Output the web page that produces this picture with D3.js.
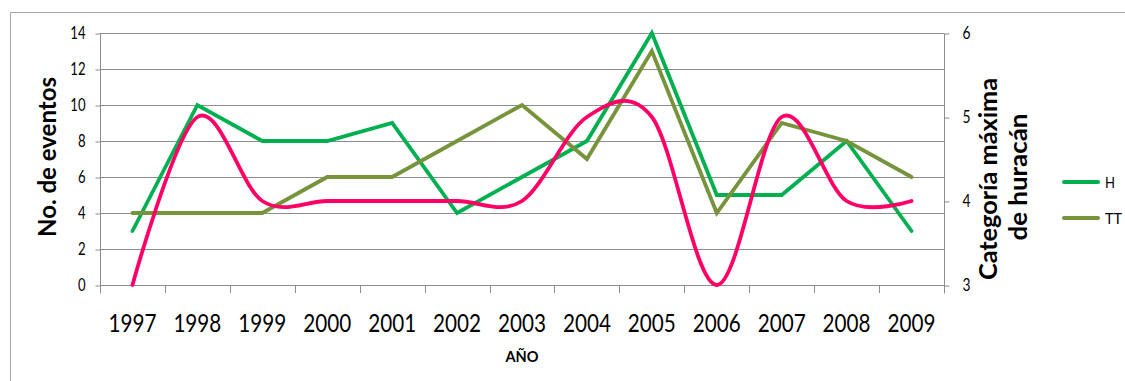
<!DOCTYPE html>
<html>
<head>
<meta charset="utf-8">
<script src="https://cdn.jsdelivr.net/npm/d3@7"></script>
<style>
  html, body { margin: 0; padding: 0; background: #fff; }
  svg { display: block; }
  text { font-family: Lato, "Liberation Sans", sans-serif; fill: #000; }
</style>
</head>
<body>
<svg id="chart" width="1125" height="381"></svg>
<script>
// Años y series
const years = ['1997','1998','1999','2000','2001','2002','2003','2004','2005','2006','2007','2008','2009'];
const hValues  = [3, 10, 8, 8, 9, 4, 6, 8, 14, 5, 5, 8, 3];      // H
const ttValues = [4, 4, 4, 6, 6, 8, 10, 7, 13, 4, 9, 8, 6];      // TT
const catValues = [3, 5, 4, 4, 4, 4, 4, 5, 5, 3, 5, 4, 4];       // categoría máxima (eje secundario)
const leftTicks = [0, 2, 4, 6, 8, 10, 12, 14];
const rightTicks = [3, 4, 5, 6];

const svg = d3.select('#chart');
const plot = { left: 100, right: 944, top: 33, bottom: 285 };
const gridColor = '#8c8c8c';
const intFmt = d3.format('d');

// marco exterior
svg.append('rect')
  .attr('x', 10.5).attr('y', 12.5)
  .attr('width', 1130).attr('height', 400)
  .attr('fill', 'none').attr('stroke', '#a6a6a6').attr('stroke-width', 1);

const x = d3.scaleBand().domain(years).range([plot.left, plot.right]);
const yL = d3.scaleLinear().domain([0, 14]).range([plot.bottom, plot.top]);
const yR = d3.scaleLinear().domain([3, 6]).range([plot.bottom, plot.top]);
const cx = d => x(d) + x.bandwidth() / 2;

// líneas de cuadrícula horizontales
svg.append('g').selectAll('line').data(leftTicks).join('line')
  .attr('x1', plot.left).attr('x2', plot.right)
  .attr('y1', d => Math.round(yL(d)) + 0.5).attr('y2', d => Math.round(yL(d)) + 0.5)
  .attr('stroke', gridColor).attr('stroke-width', 1);

// eje izquierdo
const axL = svg.append('g').attr('transform', `translate(${plot.left + 0.5},0.5)`)
  .call(d3.axisLeft(yL).tickValues(leftTicks).tickFormat(intFmt)
    .tickSize(5).tickPadding(10).tickSizeOuter(0));
axL.select('.domain').attr('stroke', gridColor).attr('d', `M0,${plot.top}V${plot.bottom + 8}`);
axL.selectAll('.tick line').attr('stroke', gridColor);
axL.selectAll('.tick text')
  .style('font-family', 'Lato, "Liberation Sans", sans-serif')
  .style('font-size', '17px')
  .attr('x', -15)
  .attr('textLength', d => intFmt(d).length * 7.6)
  .attr('lengthAdjust', 'spacingAndGlyphs');

// eje derecho
const axR = svg.append('g').attr('transform', `translate(${plot.right + 0.5},0.5)`)
  .call(d3.axisRight(yR).tickValues(rightTicks).tickFormat(intFmt)
    .tickSize(5).tickPadding(13).tickSizeOuter(0));
axR.select('.domain').attr('stroke', gridColor).attr('d', `M0,${plot.top}V${plot.bottom + 8}`);
axR.selectAll('.tick line').attr('stroke', gridColor);
axR.selectAll('.tick text')
  .style('font-family', 'Lato, "Liberation Sans", sans-serif')
  .style('font-size', '17px')
  .attr('textLength', 8)
  .attr('lengthAdjust', 'spacingAndGlyphs');

// eje de categorías
svg.append('line')
  .attr('x1', plot.left).attr('x2', plot.right)
  .attr('y1', plot.bottom + 0.5).attr('y2', plot.bottom + 0.5)
  .attr('stroke', gridColor);
const bounds = years.map(d => x(d)).concat([x(years[years.length - 1]) + x.bandwidth()]);
svg.append('g').selectAll('line').data(bounds).join('line')
  .attr('x1', d => Math.round(d) + 0.5).attr('x2', d => Math.round(d) + 0.5)
  .attr('y1', plot.bottom).attr('y2', plot.bottom + 8)
  .attr('stroke', gridColor);
svg.append('g').selectAll('text').data(years).join('text')
  .attr('x', d => cx(d)).attr('y', 332)
  .attr('text-anchor', 'middle')
  .style('font-size', '25px')
  .attr('textLength', 48).attr('lengthAdjust', 'spacingAndGlyphs')
  .text(d => d);

// títulos de ejes
svg.append('text')
  .attr('x', 522).attr('y', 362).attr('text-anchor', 'middle')
  .style('font-size', '16px').style('font-weight', 'bold')
  .attr('textLength', 33).attr('lengthAdjust', 'spacingAndGlyphs')
  .text('AÑO');

svg.append('text')
  .attr('transform', 'translate(56,157) rotate(-90)')
  .attr('text-anchor', 'middle')
  .style('font-size', '25px').style('font-weight', 'bold')
  .attr('textLength', 160).attr('lengthAdjust', 'spacingAndGlyphs')
  .text('No. de eventos');

svg.append('text')
  .attr('transform', 'translate(997,179) rotate(-90)')
  .attr('text-anchor', 'middle')
  .style('font-size', '25px').style('font-weight', 'bold')
  .attr('textLength', 202).attr('lengthAdjust', 'spacingAndGlyphs')
  .text('Categoría máxima');

svg.append('text')
  .attr('transform', 'translate(1027,177) rotate(-90)')
  .attr('text-anchor', 'middle')
  .style('font-size', '25px').style('font-weight', 'bold')
  .attr('textLength', 127).attr('lengthAdjust', 'spacingAndGlyphs')
  .text('de huracán');

// series
const lineL = d3.line().x((d, i) => cx(years[i])).y(d => yL(d));
const lineR = d3.line().x((d, i) => cx(years[i])).y(d => yR(d)).curve(d3.curveCardinal.tension(0));

svg.append('path').datum(hValues).attr('d', lineL)
  .attr('fill', 'none').attr('stroke', '#00B050').attr('stroke-width', 3.8)
  .attr('stroke-linejoin', 'miter').attr('stroke-linecap', 'round');
svg.append('path').datum(ttValues).attr('d', lineL)
  .attr('fill', 'none').attr('stroke', '#77933C').attr('stroke-width', 3.8)
  .attr('stroke-linejoin', 'miter').attr('stroke-linecap', 'round');
svg.append('path').datum(catValues).attr('d', lineR)
  .attr('fill', 'none').attr('stroke', '#FF0066').attr('stroke-width', 3.8)
  .attr('stroke-linecap', 'round');

// leyenda
const legend = [
  { name: 'H', color: '#00B050', y: 182, w: 10 },
  { name: 'TT', color: '#77933C', y: 218, w: 17 }
];
const lg = svg.append('g').selectAll('g').data(legend).join('g');
lg.append('line')
  .attr('x1', 1064).attr('x2', 1098)
  .attr('y1', d => d.y).attr('y2', d => d.y)
  .attr('stroke', d => d.color).attr('stroke-width', 4).attr('stroke-linecap', 'round');
lg.append('text')
  .attr('x', 1105).attr('y', d => d.y + 6)
  .style('font-size', '15px')
  .attr('textLength', d => d.w).attr('lengthAdjust', 'spacingAndGlyphs')
  .text(d => d.name);
</script>
</body>
</html>
